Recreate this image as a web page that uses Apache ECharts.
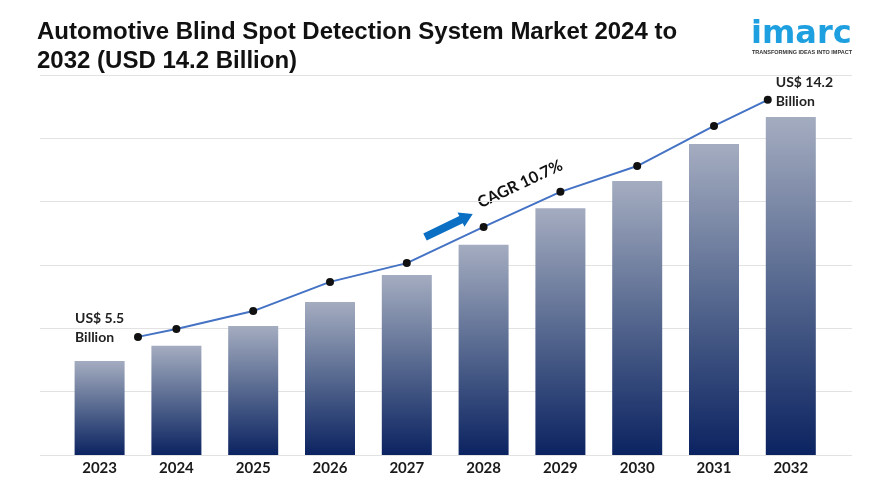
<!DOCTYPE html>
<html>
<head>
<meta charset="utf-8">
<script src="https://cdn.jsdelivr.net/npm/echarts@6/dist/echarts.min.js"></script>
<style>
html,body{margin:0;padding:0;background:#fff;}
#chart{width:870px;height:489px;}
</style>
</head>
<body>
<div id="chart"></div>
<script>
// ---- data ----
const years = ['2023','2024','2025','2026','2027','2028','2029','2030','2031','2032'];
// bar heights (USD billion)
const barValues = [5.50, 6.04, 6.75, 7.60, 8.57, 9.64, 10.95, 11.92, 13.24, 14.20];
// trend line values (drawn above bars)
const lineValues = [6.36, 6.64, 7.28, 8.32, 8.99, 10.28, 11.53, 12.45, 13.88, 14.81];
// trend line positions along the category index (end points sit inward)
const linePos = [0.5, 1, 2, 3, 4, 5, 6, 7, 8, 8.7];
const startLabel = ['US$ 5.5', 'Billion'];
const endLabel = ['US$ 14.2', 'Billion'];
const cagrText = 'CAGR 10.7%';
const titleLines = ['Automotive Blind Spot Detection System Market 2024 to', '2032 (USD 14.2 Billion)'];

const chart = echarts.init(document.getElementById('chart'), null, {renderer: 'canvas'});

const lineData = lineValues.map((v, i) => {
  const d = {value: [linePos[i], v]};
  if (i === 0) {
    d.label = {show: true, position: 'left', distance: 5, offset: [0, -9],
      formatter: '{a|' + startLabel[0] + '}\n{a|' + startLabel[1] + '}',
      rich: {a: {width: 54, align: 'left', fontFamily: 'Lato', fontWeight: 'bold', fontSize: 14, color: '#222', lineHeight: 19}}};
  }
  if (i === lineValues.length - 1) {
    d.label = {show: true, position: 'right', distance: 4, offset: [0, -8],
      formatter: endLabel.join('\n'), fontFamily: 'Lato', fontWeight: 'bold', fontSize: 14, color: '#222', lineHeight: 19, align: 'left'};
  }
  return d;
});

const option = {
  backgroundColor: '#ffffff',
  animation: false,
  grid: [
    {left: 40, right: 18, top: 75, bottom: 34},
    {left: 61.2, right: 40.8, top: 75, bottom: 34}
  ],
  xAxis: [
    {gridIndex: 0, type: 'value', show: false, min: 0, max: 1},
    {gridIndex: 1, type: 'category', data: years,
     axisLine: {show: false}, axisTick: {show: false},
     axisLabel: {fontFamily: 'Lato', fontWeight: 'bold', fontSize: 15, color: '#1a1a1a', margin: 6}},
    {gridIndex: 1, type: 'value', show: false, min: -0.5, max: 9.5}
  ],
  yAxis: [
    {gridIndex: 0, type: 'value', min: 0, max: 6, interval: 1,
     axisLine: {show: false}, axisTick: {show: false}, axisLabel: {show: false},
     splitLine: {show: true, lineStyle: {color: '#e2e2e2', width: 1}}},
    {gridIndex: 1, type: 'value', min: 2.149, max: 15.696, show: false, splitLine: {show: false}}
  ],
  series: [
    {type: 'scatter', xAxisIndex: 0, yAxisIndex: 0, data: [], silent: true},
    {
      type: 'bar', xAxisIndex: 1, yAxisIndex: 1, data: barValues, barWidth: 50,
      itemStyle: {
        color: new echarts.graphic.LinearGradient(0, 0, 0, 1, [
          {offset: 0, color: '#a4acc0'},
          {offset: 0.5, color: '#56688f'},
          {offset: 1, color: '#0b2361'}
        ])
      }
    },
    {
      type: 'line', xAxisIndex: 2, yAxisIndex: 1, data: lineData,
      symbol: 'circle', symbolSize: 8,
      itemStyle: {color: '#111111'},
      lineStyle: {color: '#4472c4', width: 2},
      z: 5
    }
  ],
  graphic: [
    {type: 'text', left: 37, top: 18, style: {text: titleLines.join('\n'), font: 'bold 24px "Liberation Sans Narrow", "Arial Narrow", "Liberation Sans", sans-serif', fill: '#111', lineHeight: 29}},
    {type: 'text', left: 751, top: 19, style: {text: 'imarc', font: 'bold 32px "DejaVu Sans"', fill: '#1ea0e0'}},
    {type: 'text', left: 752, top: 49, style: {text: 'TRANSFORMING IDEAS INTO IMPACT', font: 'bold 5.5px "Liberation Sans"', fill: '#333'}},
    {type: 'text', x: 520, y: 184, rotation: 0.44, style: {text: cagrText, font: 'bold 16px Lato', fill: '#111', align: 'center', verticalAlign: 'middle'}},
    {type: 'polygon', x: 425, y: 237, rotation: 0.45,
     shape: {points: [[0,-4],[40,-4],[40,-8],[53,0],[40,8],[40,4],[0,4]]},
     style: {fill: '#0b6fc4'}}
  ]
};
chart.setOption(option);
</script>
</body>
</html>
